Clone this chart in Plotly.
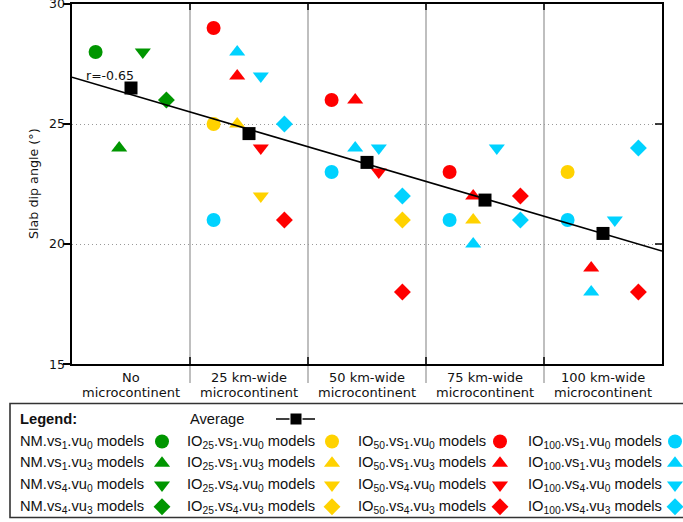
import plotly.graph_objects as go

# ---- data -------------------------------------------------------------
categories = ["No microcontinent", "25 km-wide microcontinent", "50 km-wide microcontinent",
              "75 km-wide microcontinent", "100 km-wide microcontinent"]
cat_line1 = ["No", "25 km-wide", "50 km-wide", "75 km-wide", "100 km-wide"]
cat_line2 = ["microcontinent"] * 5

# slab dip angle (deg) per category; None = no model of that kind
nm_vs1_vu0 = [28, None, None, None, None]
nm_vs1_vu3 = [24, None, None, None, None]
nm_vs4_vu0 = [28, None, None, None, None]
nm_vs4_vu3 = [26, None, None, None, None]

io25_vs1_vu0 = [None, 25, None, None, 23]
io25_vs1_vu3 = [None, 25, None, 21, None]
io25_vs4_vu0 = [None, 22, None, None, None]
io25_vs4_vu3 = [None, None, 21, None, None]

io50_vs1_vu0 = [None, 29, 26, 23, None]
io50_vs1_vu3 = [None, 27, 26, 22, 19]
io50_vs4_vu0 = [None, 24, 23, None, None]
io50_vs4_vu3 = [None, 21, 18, 22, 18]

io100_vs1_vu0 = [None, 21, 23, 21, 21]
io100_vs1_vu3 = [None, 28, 24, 20, 18]
io100_vs4_vu0 = [None, 27, 24, 24, 21]
io100_vs4_vu3 = [None, 25, 22, 21, 24]

average = [26.5, 24.6, 23.4, 21.83, 20.44]
trend_x = [-0.5, 4.5]
trend_y = [26.95, 19.71]
r_value = -0.65

y_ticks = [15, 20, 25, 30]

# ---- styling ----------------------------------------------------------
W, H = 683, 522
PL, PR, PT, PB = 72, 662, 4, 364   # plot area in pixels

GREEN, YELLOW, RED, CYAN = "#009600", "#ffd200", "#ff0000", "#00d2ff"
SYMBOLS = ["circle", "triangle-up", "triangle-down", "diamond"]
SIZES = [14, 14, 14, 13]
OFFSETS = [-0.3, -0.1, 0.1, 0.3]
DATA_FONT = "DejaVu Sans"
LEG_FONT = "Liberation Sans, Arial"
LEG_SIZE = 14.7

groups = [
    ("NM", GREEN, [nm_vs1_vu0, nm_vs1_vu3, nm_vs4_vu0, nm_vs4_vu3]),
    ("IO<sub>25</sub>", YELLOW, [io25_vs1_vu0, io25_vs1_vu3, io25_vs4_vu0, io25_vs4_vu3]),
    ("IO<sub>50</sub>", RED, [io50_vs1_vu0, io50_vs1_vu3, io50_vs4_vu0, io50_vs4_vu3]),
    ("IO<sub>100</sub>", CYAN, [io100_vs1_vu0, io100_vs1_vu3, io100_vs4_vu0, io100_vs4_vu3]),
]
variant_text = ["vs<sub>1</sub>.vu<sub>0</sub>", "vs<sub>1</sub>.vu<sub>3</sub>",
                "vs<sub>4</sub>.vu<sub>0</sub>", "vs<sub>4</sub>.vu<sub>3</sub>"]

fig = go.Figure()

# model points
for gname, color, series in groups:
    for k, vals in enumerate(series):
        xs = [i + OFFSETS[k] for i, v in enumerate(vals) if v is not None]
        ys = [v for v in vals if v is not None]
        fig.add_trace(go.Scatter(
            x=xs, y=ys, mode="markers", showlegend=False, cliponaxis=False,
            marker=dict(symbol=SYMBOLS[k], size=SIZES[k], color=color, opacity=1,
                        line=dict(width=0)),
            xaxis="x", yaxis="y"))

# regression line and category averages
fig.add_trace(go.Scatter(x=trend_x, y=trend_y, mode="lines", showlegend=False,
                         line=dict(color="black", width=1.6), xaxis="x", yaxis="y"))
fig.add_trace(go.Scatter(x=list(range(len(average))), y=average, mode="markers",
                         showlegend=False, cliponaxis=False,
                         marker=dict(symbol="square", size=13, color="black", opacity=1),
                         xaxis="x", yaxis="y"))

# ---- legend block (pixel-space overlay axes) --------------------------
row_y = [441.5, 463.3, 485, 506.7]
col_text_x = [18, 185, 356, 526]
col_mark_x = [162, 332, 500, 675]

for c, (gname, color, series) in enumerate(groups):
    fig.add_trace(go.Scatter(
        x=[col_mark_x[c]] * 4, y=row_y, mode="markers", showlegend=False, cliponaxis=False,
        marker=dict(symbol=SYMBOLS, size=SIZES, color=color, opacity=1, line=dict(width=0)),
        xaxis="x2", yaxis="y2"))
    for r in range(4):
        fig.add_annotation(x=col_text_x[c], y=row_y[r], xref="x2", yref="y2",
                           text=f"{gname}.{variant_text[r]} models", showarrow=False,
                           xanchor="left", yanchor="middle",
                           font=dict(family=LEG_FONT, size=LEG_SIZE, color="#111"))

fig.add_annotation(x=18, y=419, xref="x2", yref="y2", text="<b>Legend:</b>", showarrow=False,
                   xanchor="left", yanchor="middle",
                   font=dict(family=LEG_FONT, size=LEG_SIZE, color="#111"))
fig.add_annotation(x=188, y=419, xref="x2", yref="y2", text="Average", showarrow=False,
                   xanchor="left", yanchor="middle",
                   font=dict(family=LEG_FONT, size=LEG_SIZE, color="#111"))
fig.add_trace(go.Scatter(x=[276, 296, 315], y=[419, 419, 419], mode="lines+markers",
                         showlegend=False, cliponaxis=False,
                         line=dict(color="black", width=1.6),
                         marker=dict(symbol="square", size=[0, 12, 0], color="black", opacity=1),
                         xaxis="x2", yaxis="y2"))

shapes = []
# legend frame
shapes.append(dict(type="rect", xref="x2", yref="y2", x0=10, x1=700, y0=403.5, y1=517.5,
                   line=dict(color="#333", width=1.6), layer="above"))

# category separators, extended below the axis
for b in [0.5, 1.5, 2.5, 3.5]:
    shapes.append(dict(type="line", xref="x", yref="y2", x0=b, x1=b, y0=PT, y1=383,
                       line=dict(color="#aaaaaa", width=1.5), layer="below"))
    shapes.append(dict(type="line", xref="x", yref="y2", x0=b, x1=b, y0=PT, y1=PT + 6,
                       line=dict(color="black", width=1.5)))
    shapes.append(dict(type="line", xref="x", yref="y2", x0=b, x1=b, y0=PB - 7, y1=PB,
                       line=dict(color="black", width=1.5)))
# inward ticks on the right frame
for t in y_ticks[1:-1]:
    shapes.append(dict(type="line", xref="x2", yref="y", x0=PR - 7, x1=PR, y0=t, y1=t,
                       line=dict(color="black", width=1.5)))

# y tick labels
for t in y_ticks:
    fig.add_annotation(x=66, y=t, xref="x2", yref="y", text=str(t), showarrow=False,
                       xanchor="right", yanchor="middle", borderpad=0,
                       font=dict(family=DATA_FONT, size=12.5, color="#111"))

# category labels (two lines)
for i in range(len(categories)):
    fig.add_annotation(x=i, y=377, xref="x", yref="y2", text=cat_line1[i], showarrow=False,
                       xanchor="center", yanchor="middle", font=dict(family=DATA_FONT, size=13, color="#111"))
    fig.add_annotation(x=i, y=392, xref="x", yref="y2", text=cat_line2[i], showarrow=False,
                       xanchor="center", yanchor="middle", font=dict(family=DATA_FONT, size=13, color="#111"))

# correlation label
fig.add_annotation(x=-0.395, y=27.04, xref="x", yref="y", text=f"r={r_value}", showarrow=False,
                   xanchor="left", yanchor="middle", font=dict(family=DATA_FONT, size=12.5, color="#111"))

# y title
fig.add_annotation(x=33, y=(PT + PB) / 2, xref="x2", yref="y2", text="Slab dip angle (°)",
                   showarrow=False, textangle=-90, xanchor="center", yanchor="middle",
                   font=dict(family=DATA_FONT, size=12.7, color="#111"))

fig.update_layout(
    template="none",
    width=W, height=H,
    margin=dict(l=0, r=0, t=0, b=0, pad=0),
    paper_bgcolor="white", plot_bgcolor="rgba(0,0,0,0)",
    showlegend=False,
    shapes=shapes,
    xaxis=dict(domain=[PL / W, PR / W], range=[-0.5, 4.5], showgrid=False, zeroline=False,
               showticklabels=False, ticks="", showline=True, mirror=True, automargin=False,
               linecolor="black", linewidth=2, fixedrange=True, anchor="y"),
    yaxis=dict(domain=[1 - PB / H, 1 - PT / H], range=[15, 30], tickvals=y_ticks,
               showgrid=True, gridcolor="#999999", griddash="1px,3px", gridwidth=1,
               zeroline=False, ticks="outside", ticklen=7, tickwidth=1.5, tickcolor="black",
               showticklabels=False, automargin=False,
               showline=True, mirror=True, linecolor="black", linewidth=2,
               fixedrange=True, anchor="x"),
    xaxis2=dict(domain=[0, 1], range=[0, W], visible=False, fixedrange=True, anchor="y2",
                automargin=False),
    yaxis2=dict(domain=[0, 1], range=[H, 0], visible=False, fixedrange=True, anchor="x2",
                automargin=False),
)

fig.write_html("out.html", config={"displayModeBar": False})
